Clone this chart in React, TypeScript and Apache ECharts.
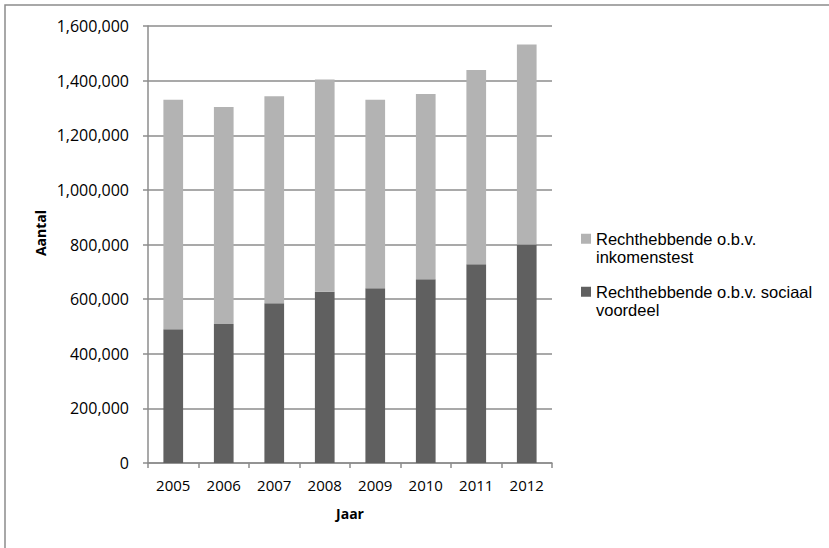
import React, { useEffect, useRef } from "react";
import * as echarts from "echarts";

const years = ["2005", "2006", "2007", "2008", "2009", "2010", "2011", "2012"];
const sociaalVoordeel = [490000, 509000, 585000, 627000, 640000, 673000, 728000, 800000];
const inkomenstest = [840000, 794000, 758000, 777000, 690000, 678000, 711000, 732000];
const seriesNames = ["Rechthebbende o.b.v. inkomenstest", "Rechthebbende o.b.v. sociaal voordeel"];
const legendLabels: Record<string, string> = {
  "Rechthebbende o.b.v. inkomenstest": "\nRechthebbende o.b.v.\ninkomenstest",
  "Rechthebbende o.b.v. sociaal voordeel": "\nRechthebbende o.b.v. sociaal\nvoordeel",
};

const FONT = "'Open Sans', sans-serif";
const LEGEND_FONT = "'Liberation Sans', Arial, sans-serif";

export default function App() {
  const ref = useRef<HTMLDivElement>(null);
  useEffect(() => {
    if (!ref.current) return;
    const chart = echarts.init(ref.current, undefined, { renderer: "svg" });
    chart.setOption({
      animation: false,
      backgroundColor: "#ffffff",
      textStyle: { fontFamily: FONT },
      grid: { left: 148, right: 277, top: 26, bottom: 85 },
      legend: {
        orient: "vertical",
        left: 581,
        top: 211,
        padding: 0,
        icon: "rect",
        itemWidth: 10,
        itemHeight: 10,
        itemGap: -2.5,
        data: [seriesNames[0], seriesNames[1]],
        formatter: (n: string) => legendLabels[n] || n,
        textStyle: {
          fontFamily: LEGEND_FONT,
          fontSize: 16.5,
          color: "#000",
          lineHeight: 18.5,
        },
      },
      xAxis: {
        type: "category",
        data: years,
        name: "Jaar",
        nameLocation: "middle",
        nameGap: 43,
        nameTextStyle: { fontFamily: FONT, fontSize: 14, fontWeight: "bold", color: "#000" },
        axisLine: { lineStyle: { color: "#8c8c8c", width: 1.5 } },
        axisTick: { show: true, alignWithLabel: false, length: 5, lineStyle: { color: "#8c8c8c", width: 1.5 } },
        axisLabel: { fontFamily: FONT, fontSize: 15, color: "#000", margin: 14 },
      },
      yAxis: {
        type: "value",
        min: 0,
        max: 1600000,
        interval: 200000,
        axisLine: { show: true, lineStyle: { color: "#8c8c8c", width: 1.5 } },
        axisTick: { show: true, length: 5, lineStyle: { color: "#8c8c8c", width: 1.5 } },
        splitLine: { show: true, lineStyle: { color: "#8c8c8c", width: 1.5 } },
        axisLabel: {
          fontFamily: FONT,
          fontSize: 16,
          color: "#000",
          margin: 19,
          formatter: (v: number) => v.toLocaleString("en-US"),
        },
      },
      series: [
        {
          name: seriesNames[1],
          type: "bar",
          stack: "total",
          data: sociaalVoordeel,
          barWidth: "39%",
          itemStyle: { color: "#606060" },
        },
        {
          name: seriesNames[0],
          type: "bar",
          stack: "total",
          data: inkomenstest,
          barWidth: "39%",
          itemStyle: { color: "#b3b3b3" },
        },
      ],
      graphic: [
        {
          type: "rect",
          shape: { x: 5, y: 5, width: 900, height: 700 },
          style: { fill: "none", stroke: "#8c8c8c", lineWidth: 1.5 },
          silent: true,
        },
        {
          type: "text",
          x: 40,
          y: 233,
          rotation: Math.PI / 2,
          style: {
            text: "Aantal",
            fontFamily: FONT,
            fontSize: 14,
            fontWeight: "bold",
            fill: "#000",
            textAlign: "center",
            textVerticalAlign: "middle",
          },
        },
      ],
    });
    return () => chart.dispose();
  }, []);
  return <div ref={ref} style={{ position: "fixed", left: 0, top: 0, width: 829, height: 548 }} />;
}
